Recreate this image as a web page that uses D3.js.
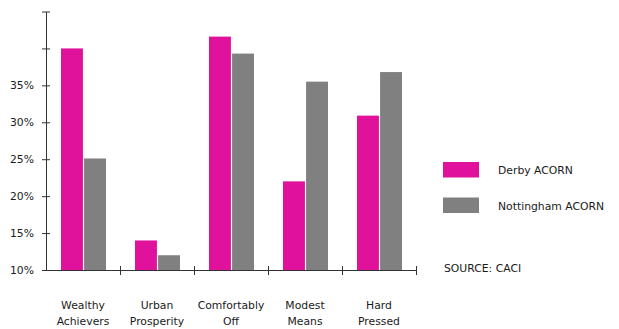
<!DOCTYPE html>
<html>
<head>
<meta charset="utf-8">
<script src="https://cdn.jsdelivr.net/npm/d3@7"></script>
<style>
  html, body { margin: 0; padding: 0; background: #fff; }
  svg text { font-family: "DejaVu Sans", Verdana, sans-serif; fill: #1a1a1a; }
</style>
</head>
<body>
<svg id="chart" width="619" height="329"></svg>
<script>
// ACORN category share, Derby vs Nottingham
const categories = [["Wealthy", "Achievers"], ["Urban", "Prosperity"], ["Comfortably", "Off"], ["Modest", "Means"], ["Hard", "Pressed"]];
const seriesNames = ["Derby ACORN", "Nottingham ACORN"];
const derby = [40, 14, 41.6, 22, 30.9];
const nottingham = [25.1, 12, 39.3, 35.5, 36.8];
const yTicks = [10, 15, 20, 25, 30, 35, 40, 45];
const yTickLabels = ["10%", "15%", "20%", "25%", "30%", "35%", "", ""];
const colors = ["#e0119b", "#808080"];
const sourceText = "SOURCE: CACI";

const svg = d3.select("#chart");
const plotLeft = 46, plotRight = 416, plotTop = 11.5, plotBottom = 270;
const fontSize = "10.8px";

const y = d3.scaleLinear().domain([10, 45]).range([plotBottom, plotTop]);
const x0 = d3.scaleBand().domain(d3.range(categories.length)).range([plotLeft, plotRight]).paddingInner(0).paddingOuter(0);
const x1 = d3.scaleBand().domain(d3.range(seriesNames.length)).range([15, x0.bandwidth() - 14]).paddingInner(0.05);

const values = [derby, nottingham];

// bars
const groups = svg.append("g").selectAll("g")
  .data(categories.map((c, i) => i))
  .join("g")
  .attr("transform", i => `translate(${x0(i)},0)`);

groups.selectAll("rect")
  .data(i => values.map((s, k) => ({ k, v: s[i] })))
  .join("rect")
  .attr("x", d => x1(d.k))
  .attr("width", x1.bandwidth())
  .attr("y", d => y(d.v))
  .attr("height", d => y(10) - y(d.v))
  .attr("fill", d => colors[d.k]);

// y axis
const yAxis = d3.axisLeft(y)
  .tickValues(yTicks)
  .tickFormat((d, i) => yTickLabels[i])
  .tickSizeInner(4)
  .tickSizeOuter(0)
  .tickPadding(7);
const gy = svg.append("g").attr("transform", `translate(${plotLeft},0)`).call(yAxis);
gy.select(".domain").attr("stroke", "#333");
gy.selectAll(".tick line").attr("x2", 4).attr("x1", -4).attr("stroke", "#333");
gy.selectAll(".tick text").style("font-size", fontSize).attr("fill", "#1a1a1a").attr("dx", -1);

// x axis with ticks at category boundaries
const boundaries = d3.range(categories.length + 1).map(i => plotLeft + i * x0.bandwidth());
const xb = d3.scaleLinear().domain([plotLeft, plotRight]).range([plotLeft, plotRight]);
const xAxis = d3.axisBottom(xb).tickValues(boundaries.slice(1)).tickFormat("").tickSizeOuter(0).tickSizeInner(4);
const gx = svg.append("g").attr("transform", `translate(0,${plotBottom})`).call(xAxis);
gx.select(".domain").attr("stroke", "#333");
gx.selectAll(".tick line").attr("y1", -4).attr("y2", 5).attr("stroke", "#333");

// category labels
const labels = svg.append("g").selectAll("text")
  .data(categories)
  .join("text")
  .attr("x", (d, i) => x0(i) + x0.bandwidth() / 2)
  .attr("y", 309)
  .attr("text-anchor", "middle")
  .style("font-size", fontSize);
labels.selectAll("tspan")
  .data(d => d)
  .join("tspan")
  .attr("x", function () { return d3.select(this.parentNode).attr("x"); })
  .attr("dy", (d, j) => j === 0 ? 0 : 16)
  .text(d => d);

// legend
const legend = svg.append("g").selectAll("g")
  .data(seriesNames)
  .join("g")
  .attr("transform", (d, i) => `translate(443,${162 + i * 35.5})`);
legend.append("rect")
  .attr("width", 36).attr("height", 15.5)
  .attr("fill", (d, i) => colors[i]);
legend.append("text")
  .attr("x", 55).attr("y", 12)
  .style("font-size", fontSize)
  .text(d => d);

svg.append("text")
  .attr("x", 444).attr("y", 271.5)
  .style("font-size", fontSize)
  .text(sourceText);
</script>
</body>
</html>
